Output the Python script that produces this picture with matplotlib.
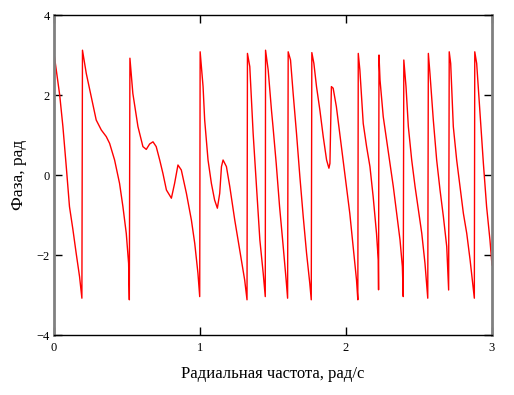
import matplotlib
matplotlib.use('Agg')
import matplotlib.pyplot as plt

plt.rcParams['font.family'] = ['Liberation Serif', 'DejaVu Serif']

# частота, рад/с (по ветвям фазы между скачками)
freq = [0.0, 0.039, 0.061, 0.084, 0.106, 0.129, 0.152, 0.175, 0.191,
        0.195, 0.221, 0.255, 0.289, 0.324, 0.358, 0.381, 0.415, 0.449, 0.472, 0.495, 0.511, 0.516,
        0.52, 0.54, 0.575, 0.609, 0.632, 0.655, 0.678, 0.70, 0.724, 0.746, 0.77, 0.804, 0.826,
        0.849, 0.872, 0.907, 0.941, 0.964, 0.986, 0.998,
        1.001, 1.021, 1.032, 1.055, 1.078, 1.10, 1.119, 1.135, 1.147, 1.158, 1.181, 1.204,
        1.238, 1.272, 1.306, 1.322,
        1.325, 1.341, 1.364, 1.387, 1.41, 1.433, 1.447,
        1.449, 1.467, 1.49, 1.50, 1.522, 1.545, 1.568, 1.59, 1.60,
        1.604, 1.62, 1.638, 1.661, 1.684, 1.707, 1.73, 1.752, 1.762,
        1.766, 1.78, 1.798, 1.821, 1.844, 1.867, 1.883, 1.89, 1.896, 1.90, 1.912, 1.934, 1.957,
        1.98, 2.003, 2.026, 2.049, 2.072, 2.081,
        2.084, 2.095, 2.118, 2.141, 2.164, 2.186, 2.209, 2.221, 2.223,
        2.226, 2.233, 2.255, 2.278, 2.301, 2.324, 2.347, 2.37, 2.386, 2.392,
        2.396, 2.411, 2.427, 2.45, 2.473, 2.496, 2.519, 2.541, 2.56,
        2.564, 2.575, 2.598, 2.621, 2.644, 2.667, 2.69, 2.703,
        2.707, 2.717, 2.735, 2.758, 2.781, 2.804, 2.827, 2.85, 2.868, 2.879,
        2.882, 2.895, 2.918, 2.941, 2.963, 2.986, 3.0]

# фаза, рад
phase = [3.04, 2.0, 1.21, 0.21, -0.79, -1.35, -1.96, -2.54, -3.08,
         3.12, 2.54, 1.96, 1.375, 1.125, 0.96, 0.79, 0.375, -0.21, -0.79, -1.46, -2.21, -3.12,
         2.92, 2.04, 1.21, 0.71, 0.64, 0.775, 0.83, 0.71, 0.375, 0.04, -0.375, -0.58, -0.21,
         0.25, 0.125, -0.46, -1.125, -1.71, -2.46, -3.04,
         3.08, 2.21, 1.375, 0.375, -0.21, -0.625, -0.83, -0.46, 0.21, 0.375, 0.21, -0.29,
         -1.125, -1.875, -2.625, -3.12,
         3.04, 2.71, 1.04, -0.29, -1.625, -2.46, -3.04,
         3.12, 2.625, 1.6, 1.21, 0.29, -0.79, -1.71, -2.625, -3.08,
         3.08, 2.875, 2.04, 1.04, -0.04, -1.04, -1.96, -2.71, -3.12,
         3.06, 2.79, 2.21, 1.625, 0.96, 0.375, 0.17, 0.29, 1.375, 2.21, 2.17, 1.71, 1.04,
         0.375, -0.29, -0.96, -1.79, -2.625, -3.12,
         3.04, 2.625, 1.29, 0.71, 0.21, -0.54, -1.46, -2.125, -2.87,
         3.0, 2.375, 1.46, 0.875, 0.29, -0.29, -0.96, -1.625, -2.29, -3.04,
         2.875, 2.21, 1.21, 0.375, -0.29, -0.875, -1.46, -2.21, -3.08,
         3.04, 2.54, 1.375, 0.375, -0.375, -1.04, -1.79, -2.875,
         3.08, 2.79, 1.21, 0.375, -0.29, -0.96, -1.46, -2.125, -2.71, -3.08,
         3.08, 2.79, 1.54, 0.29, -0.79, -1.625, -2.25]

x_ticks = [0, 1, 2, 3]
y_ticks = [-4, -2, 0, 2, 4]

fig = plt.figure(figsize=(5.14, 3.95), dpi=100)
ax = fig.add_axes([54 / 514, 60 / 395, 438 / 514, 320 / 395])

ax.plot(freq, phase, color='#ff0000', lw=1.0)

ax.set_xlim(0, 3)
ax.set_ylim(-4, 4)
ax.set_xticks(x_ticks)
ax.set_yticks(y_ticks)
ax.set_xticklabels([str(t) for t in x_ticks])
ax.set_yticklabels(['\u22124', '\u22122', '0', '2', '4'])

ax.tick_params(direction='in', length=6, width=1, top=True, right=True,
               labelsize=9, color='black')
ax.tick_params(axis='x', pad=5)
ax.tick_params(axis='y', pad=3)

for side in ['left', 'right']:
    ax.spines[side].set_color('#808080')
    ax.spines[side].set_linewidth(2)
for side in ['top', 'bottom']:
    ax.spines[side].set_color('black')
    ax.spines[side].set_linewidth(1)

ax.set_xlabel('Радиальная частота, рад/с', fontsize=12, labelpad=9)
ax.set_ylabel('Фаза, рад', fontsize=12.5, labelpad=7)

fig.savefig('out.png', dpi=100)
